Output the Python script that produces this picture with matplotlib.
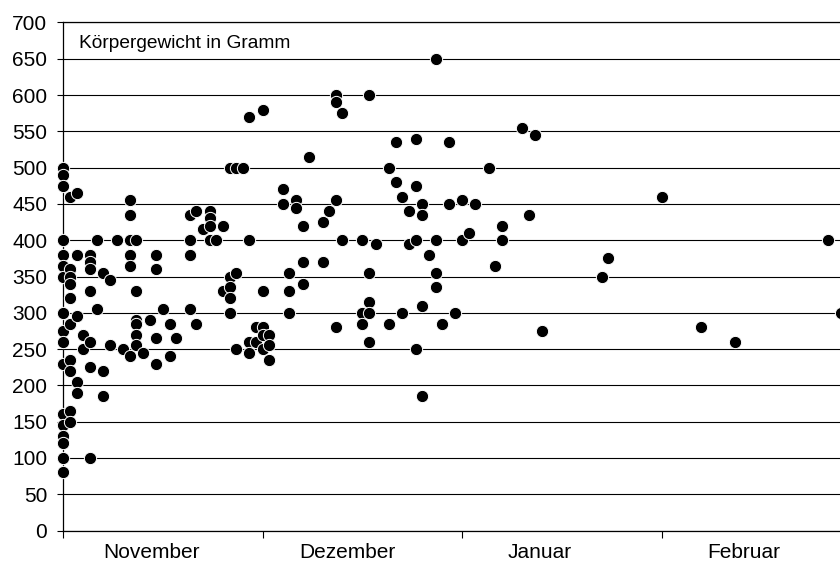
import matplotlib
matplotlib.use("Agg")
import matplotlib.pyplot as plt

plt.rcParams.update({"font.family": ["Liberation Sans", "DejaVu Sans"],
                     "font.size": 15})

# --- data: (day since 1 Nov, weight in g), read column by column -------------
days = [
    0, 0, 0, 0, 0, 0, 0, 0, 0, 0, 0, 0, 0, 0, 0, 0, 0,
    1, 1, 1, 1, 1, 1, 1, 1, 1, 1,
    2, 2, 2, 2, 2,
    3, 3,
    4, 4, 4, 4, 4, 4, 4,
    5, 5,
    6, 6, 6,
    7, 7,
    8,
    9,
    10, 10, 10, 10, 10, 10,
    11, 11, 11, 11, 11, 11,
    12,
    13,
    14, 14, 14, 14,
    15,
    16, 16,
    17,
    19, 19, 19, 19,
    20, 20,
    21,
    22, 22, 22, 22,
    23,
    24, 24,
    25, 25, 25, 25, 25,
    26, 26, 26,
    27,
    28, 28, 28, 28,
    29, 29,
    30, 30, 30, 30, 30,
    31, 31, 31,
    33, 33,
    34, 34, 34,
    35, 35,
    36, 36, 36,
    37,
    39, 39,
    40,
    41, 41, 41, 41,
    42, 42,
    45, 45, 45,
    46, 46, 46, 46, 46,
    47,
    49, 49,
    50, 50,
    51, 51,
    52, 52,
    53, 53, 53, 53,
    54, 54, 54, 54,
    55,
    56, 56, 56, 56,
    57,
    58, 58,
    59,
    60, 60,
    61,
    62,
    64,
    65,
    66, 66,
    69,
    70,
    71,
    72,
    81,
    82,
    90,
    96,
    101,
    115,
    117,
]
gramm = [
    500, 490, 475, 400, 380, 365, 350, 300, 275, 260, 230, 160, 145, 130, 120, 100, 80,
    460, 360, 350, 340, 320, 285, 235, 220, 165, 150,
    465, 380, 295, 205, 190,
    270, 250,
    380, 370, 360, 330, 260, 225, 100,
    400, 305,
    355, 220, 185,
    345, 255,
    400,
    250,
    455, 435, 400, 380, 365, 240,
    400, 330, 290, 285, 270, 255,
    245,
    290,
    380, 360, 265, 230,
    305,
    285, 240,
    265,
    435, 400, 380, 305,
    440, 285,
    415,
    440, 430, 420, 400,
    400,
    420, 330,
    500, 350, 335, 320, 300,
    500, 355, 250,
    500,
    570, 400, 260, 245,
    280, 260,
    580, 330, 280, 270, 250,
    270, 255, 235,
    470, 450,
    355, 330, 300,
    455, 445,
    420, 370, 340,
    515,
    425, 370,
    440,
    600, 590, 455, 280,
    575, 400,
    400, 300, 285,
    600, 355, 315, 300, 260,
    395,
    500, 285,
    535, 480,
    460, 300,
    440, 395,
    540, 475, 400, 250,
    450, 435, 310, 185,
    380,
    650, 400, 355, 335,
    285,
    535, 450,
    300,
    455, 400,
    410,
    450,
    500,
    365,
    420, 400,
    555,
    435,
    545,
    275,
    350,
    375,
    460,
    280,
    260,
    400,
    300,
]
months = ["November", "Dezember", "Januar", "Februar"]
month_starts = [0, 30, 60, 90]
y_ticks = list(range(0, 701, 50))

# label centres sit a bit left of mid-month, as in the original
LABEL_X = [13.3, 42.8, 71.6, 102.3]
X_MAX = 116.85

fig = plt.figure(figsize=(8.4, 5.62), dpi=100)
ax = fig.add_axes([0.0754, 0.056, 0.9246, 0.904])

# dots on the y axis are drawn whole in the original, so no clipping
ax.scatter(days, gramm, s=78, color="black", edgecolor="white", linewidth=0.7,
           zorder=3, clip_on=False)

ax.set_xlim(0, X_MAX)
ax.set_ylim(0, 700)
ax.set_yticks(y_ticks)
ax.yaxis.grid(True, color="black", lw=0.8)
ax.set_axisbelow(True)

ax.set_xticks(month_starts)
ax.set_xticklabels([])
ax.set_xticks(LABEL_X, minor=True)
ax.set_xticklabels(months, minor=True)
ax.tick_params(axis="x", which="major", length=5, width=0.8, direction="out")
ax.tick_params(axis="x", which="minor", length=0, pad=9)
ax.tick_params(axis="y", length=4.5, width=0.8, pad=7)

ax.spines["right"].set_visible(False)
for side in ("left", "bottom", "top"):
    ax.spines[side].set_color("black")
    ax.spines[side].set_linewidth(0.9)

ax.text(0.02, 0.9496, "Körpergewicht in Gramm", transform=ax.transAxes,
        ha="left", va="baseline", fontsize=13.75)

fig.savefig("out.png", dpi=100)
